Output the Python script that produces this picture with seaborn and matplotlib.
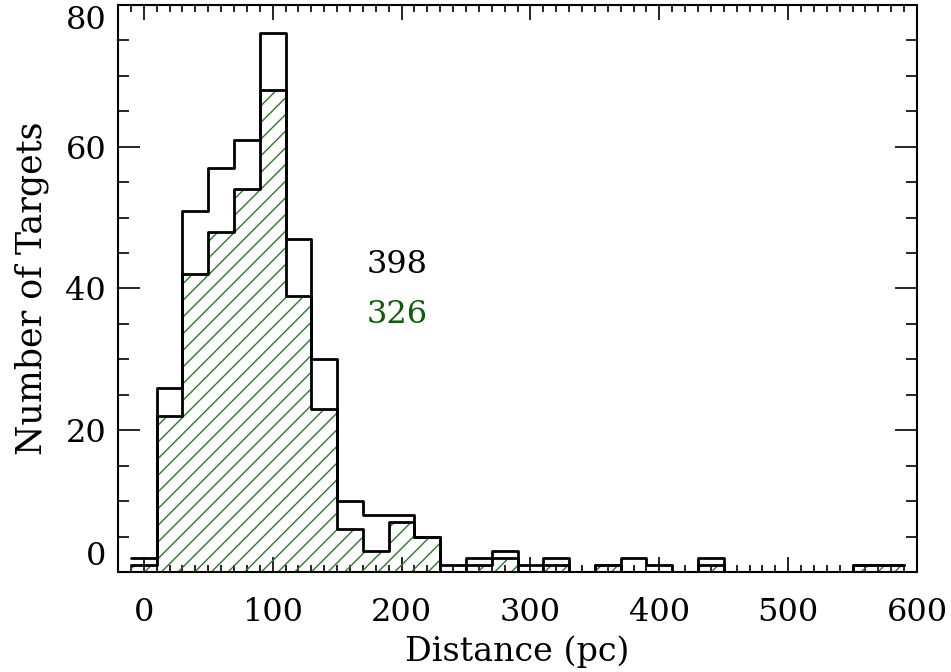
import numpy as np
import pandas as pd
import matplotlib
matplotlib.use("Agg")
import matplotlib.pyplot as plt
import seaborn as sns
from matplotlib.ticker import MultipleLocator

# bin centres (pc), width 20
bin_centers = [0, 20, 40, 60, 80, 100, 120, 140, 160, 180, 200, 220, 240, 260,
               280, 300, 320, 340, 360, 380, 400, 420, 440, 460, 480, 500,
               520, 540, 560, 580]
all_counts = [2, 26, 51, 57, 61, 76, 47, 30, 10, 8, 8, 5, 1, 2,
              3, 1, 2, 0, 1, 2, 1, 0, 2, 0, 0, 0, 0, 0, 1, 1]
sub_counts = [1, 22, 42, 48, 54, 68, 39, 23, 6, 3, 7, 5, 0, 1,
              2, 0, 1, 0, 1, 0, 0, 0, 1, 0, 0, 0, 0, 0, 1, 1]
x_ticks = [0, 100, 200, 300, 400, 500, 600]
y_ticks = [0, 20, 40, 60, 80]
label_all = "398"
label_sub = "326"

GREEN = "#0b5e0b"
HATCH_GREEN = "#2a7a2a"

df = pd.DataFrame({"d": bin_centers, "all": all_counts, "sub": sub_counts})
edges = [float(v) for v in range(-10, 600, 20)]

sns.set_style("white")
plt.rcParams["font.family"] = ["DejaVu Serif"]
plt.rcParams["hatch.linewidth"] = 1.0

fig = plt.figure(figsize=(9.51, 6.72), dpi=100)
ax = fig.add_axes([0.1241, 0.1488, 0.8402, 0.8438])

# hatched subset fill
sns.histplot(data=df, x="d", weights="sub", bins=edges, element="step",
             fill=True, ax=ax, color=GREEN, alpha=1)
for coll in ax.collections:
    coll.set_facecolor("none")
    coll.set_edgecolor(HATCH_GREEN)
    coll.set_hatch("//")
    coll.set_linewidth(0)

# outlines
sns.histplot(data=df, x="d", weights="sub", bins=edges, element="step",
             fill=False, ax=ax, color="black", linewidth=2)
sns.histplot(data=df, x="d", weights="all", bins=edges, element="step",
             fill=False, ax=ax, color="black", linewidth=2)

ax.set_xlim(-20, 600)
ax.set_ylim(0, 80)
ax.set_xticks(x_ticks)
ax.set_yticks(y_ticks)
ax.xaxis.set_minor_locator(MultipleLocator(10))
ax.yaxis.set_minor_locator(MultipleLocator(5))
ax.tick_params(which="both", direction="in", top=True, right=True,
               bottom=True, left=True,
               labelsize=23, width=1.2, colors="black")
ax.tick_params(axis="x", which="major", length=11, pad=18)
ax.tick_params(axis="x", which="minor", length=5)
ax.tick_params(axis="y", which="major", length=16, pad=8.5)
ax.tick_params(axis="y", which="minor", length=8)
for s in ax.spines.values():
    s.set_linewidth(1.5)
    s.set_color("black")

ylabels = ax.get_yticklabels()
ylabels[0].set_verticalalignment("bottom")
ylabels[-1].set_verticalalignment("top")

ax.set_xlabel("Distance (pc)", fontsize=24, labelpad=5, color="black")
ax.set_ylabel("Number of Targets", fontsize=25, labelpad=12, color="black")

ax.text(173, 43.4, label_all, fontsize=23, color="black", va="center", ha="left")
ax.text(173, 36.3, label_sub, fontsize=23, color=GREEN, va="center", ha="left")

fig.savefig("out.png", dpi=100)
